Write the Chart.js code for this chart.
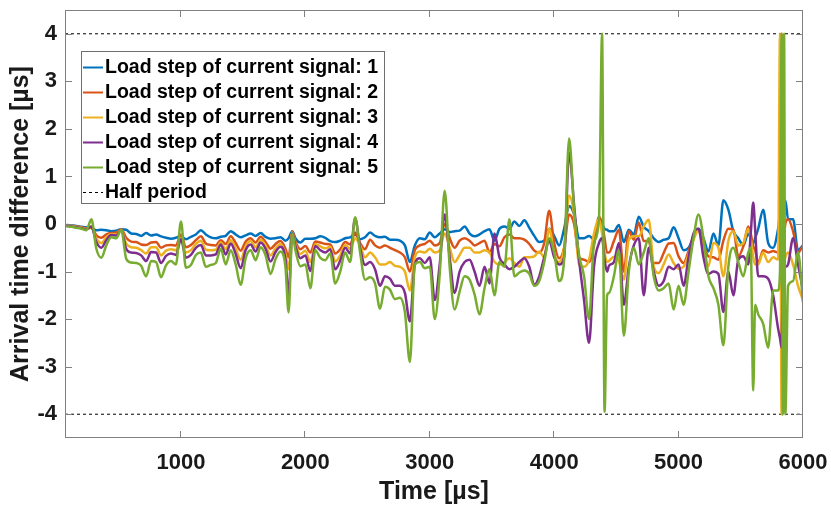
<!DOCTYPE html>
<html>
<head>
<meta charset="utf-8">
<title>Arrival time difference</title>
<script src="https://cdn.jsdelivr.net/npm/chart.js@4.4.0/dist/chart.umd.min.js"></script>
<style>
  html, body { margin: 0; padding: 0; background: #fff; }
  #wrap { position: relative; width: 831px; height: 508px; }
</style>
</head>
<body>
<div id="wrap"><canvas id="grafico"></canvas></div>
<script>
// Instantes de amostragem (µs)
const times = [
  80, 120, 160, 200, 240, 280, 320, 360, 400, 440,
  480, 520, 560, 600, 640, 680, 720, 760, 800, 840,
  880, 920, 960, 1000, 1040, 1080, 1120, 1160, 1200, 1240,
  1280, 1320, 1360, 1400, 1440, 1480, 1520, 1560, 1600, 1640,
  1680, 1720, 1760, 1800, 1840, 1865, 1895, 1920, 1960, 2000,
  2040, 2080, 2120, 2160, 2200, 2240, 2280, 2320, 2360, 2400,
  2440, 2480, 2520, 2560, 2600, 2640, 2680, 2720, 2760, 2800,
  2840, 2880, 2920, 2960, 3000, 3040, 3080, 3120, 3160, 3200,
  3240, 3280, 3320, 3360, 3400, 3440, 3480, 3520, 3560, 3600,
  3640, 3680, 3720, 3760, 3800, 3840, 3880, 3920, 3960, 4000,
  4040, 4080, 4120, 4160, 4200, 4240, 4280, 4320, 4360, 4385,
  4405, 4425, 4440, 4480, 4520, 4560, 4600, 4640, 4680, 4720,
  4760, 4800, 4840, 4880, 4920, 4960, 5000, 5040, 5080, 5120,
  5160, 5200, 5240, 5280, 5320, 5360, 5400, 5440, 5480, 5520,
  5560, 5580, 5600, 5615, 5640, 5680, 5720, 5760, 5800, 5815,
  5828, 5838, 5848, 5858, 5880, 5920, 5960, 6000
];

// Degrau de carga 1 .. 5 (µs)
const step1 = [
  -0.02, -0.03, -0.04, -0.06, -0.07, -0.08, -0.13, -0.12, -0.13, -0.15,
  -0.14, -0.11, -0.12, -0.2, -0.21, -0.25, -0.19, -0.24, -0.22, -0.26,
  -0.29, -0.31, -0.29, -0.25, -0.32, -0.27, -0.22, -0.13, -0.22, -0.28,
  -0.3, -0.27, -0.25, -0.15, -0.22, -0.28, -0.24, -0.2, -0.25, -0.19,
  -0.27, -0.31, -0.3, -0.28, -0.35, -0.3, -0.15, -0.3, -0.39, -0.31,
  -0.31, -0.3, -0.26, -0.29, -0.36, -0.38, -0.35, -0.3, -0.28, -0.22,
  -0.32, -0.28, -0.18, -0.25, -0.28, -0.27, -0.33, -0.33, -0.35, -0.45,
  -0.8, -0.45, -0.3, -0.32, -0.18, -0.28, -0.2, -0.11, -0.17, -0.15,
  -0.14, -0.05, -0.2, -0.26, -0.22, -0.15, -0.11, -0.35, -0.1, -0.05,
  -0.1, 0.05, -0.04, 0.08, -0.08, -0.25, -0.38, -0.35, -0.1, -0.25,
  -0.45, -0.1, 0.38, 0.2, -0.3, -0.3, -0.25, -0.33, 0.1, 0.0,
  -0.1, -0.12, -0.15, -0.15, -0.02, -0.38, -0.12, -0.22, 0.15, -0.06,
  -0.15, -0.3, -0.38, -0.33, -0.3, -0.07, -0.3, -0.55, -0.5, -0.28,
  -0.1, -0.3, -0.58, -0.2, -0.45, 0.5, 0.3, -0.15, -0.3, -0.45,
  -0.2, -0.3, -0.4, -0.3, -0.1, 0.3, -0.4, -0.5, -0.1, 0.2,
  0.3, 0.4, 0.5, 0.5, 0.1, 0.1, -0.55, -0.45
];
const step2 = [
  -0.03, -0.04, -0.05, -0.07, -0.09, -0.05, -0.24, -0.29, -0.22, -0.19,
  -0.18, -0.11, -0.29, -0.37, -0.38, -0.43, -0.44, -0.39, -0.38, -0.5,
  -0.45, -0.44, -0.45, -0.22, -0.49, -0.44, -0.34, -0.26, -0.41, -0.44,
  -0.45, -0.34, -0.42, -0.26, -0.4, -0.56, -0.37, -0.3, -0.39, -0.27,
  -0.38, -0.52, -0.42, -0.36, -0.52, -0.7, -0.16, -0.37, -0.53, -0.46,
  -0.6, -0.37, -0.39, -0.42, -0.43, -0.62, -0.53, -0.38, -0.43, -0.18,
  -0.4, -0.53, -0.33, -0.45, -0.5, -0.45, -0.5, -0.55, -0.6, -0.7,
  -1.0, -0.55, -0.45, -0.42, -0.35, -0.45, -0.4, 0.0, -0.3, -0.5,
  -0.35, -0.3, -0.35, -0.45, -0.4, -0.35, -0.6, -0.42, -0.47, -0.28,
  -0.22, -0.3, -0.3, -0.33, -0.42, -0.56, -0.6, -0.4, 0.28, -0.4,
  -0.72, -0.5, 0.2, 0.0, -0.7, -0.75, -0.8, -0.45, 0.15, 0.0,
  -0.3, -0.6, -0.6, -0.36, -0.12, -1.0, -0.15, -0.33, 0.03, -0.36,
  -0.36, -0.82, -0.82, -0.61, -0.41, -0.4, -0.68, -0.82, -0.57, -0.26,
  -0.12, -0.43, -0.68, -0.7, -0.75, -0.35, -0.1, -0.12, -0.68, -0.47,
  -0.05, -0.2, -0.47, -0.55, -0.82, -0.55, -0.6, -0.57, -0.6, -0.2,
  4.0, -1.0, -0.3, 0.0, 0.1, -0.15, -0.6, -0.45
];
const step3 = [
  -0.03, -0.04, -0.06, -0.08, -0.1, -0.08, -0.31, -0.4, -0.28, -0.21,
  -0.22, -0.12, -0.41, -0.49, -0.5, -0.55, -0.62, -0.49, -0.49, -0.66,
  -0.56, -0.53, -0.55, -0.3, -0.6, -0.55, -0.42, -0.35, -0.54, -0.55,
  -0.54, -0.39, -0.53, -0.34, -0.52, -0.75, -0.47, -0.36, -0.49, -0.33,
  -0.45, -0.66, -0.51, -0.42, -0.63, -0.95, -0.18, -0.42, -0.63, -0.56,
  -0.8, -0.42, -0.47, -0.51, -0.48, -0.79, -0.66, -0.44, -0.52, -0.3,
  -0.45, -0.7, -0.6, -0.7, -0.85, -0.85, -0.8, -0.88, -0.9, -1.0,
  -1.4, -0.7, -0.58, -0.6, -0.52, -0.6, -0.55, -0.2, -0.5, -0.8,
  -0.65, -0.5, -0.5, -0.6, -0.6, -0.55, -0.6, -0.8, -0.85, -0.8,
  -0.72, -0.82, -0.9, -0.7, -0.7, -0.68, -0.58, -0.7, -0.1, -0.62,
  -0.8, -0.5, 0.6, 0.2, -0.85, -0.9, -0.75, -0.2, 0.1, -0.2,
  -0.6, -0.8, -0.78, -0.69, -0.78, -1.17, -0.33, -0.26, -0.26, -0.05,
  0.09, -0.89, -1.03, -0.85, -0.64, -0.82, -0.94, -0.9, -0.64, -0.33,
  -0.13, -0.57, -0.89, -0.4, -0.5, -1.1, -0.35, -0.15, -0.45, -0.4,
  -0.1, -0.3, -0.7, -0.85, -0.85, -0.6, -0.8, -0.7, -0.75, 4.0,
  -4.0, -1.0, -0.8, -0.7, -0.6, -0.85, -1.3, -1.6
];
const step4 = [
  -0.04, -0.05, -0.07, -0.09, -0.11, -0.06, -0.38, -0.5, -0.34, -0.23,
  -0.24, -0.12, -0.52, -0.6, -0.61, -0.66, -0.78, -0.59, -0.6, -0.82,
  -0.67, -0.62, -0.65, -0.32, -0.71, -0.65, -0.5, -0.44, -0.66, -0.66,
  -0.64, -0.43, -0.64, -0.41, -0.63, -0.93, -0.55, -0.43, -0.58, -0.39,
  -0.52, -0.79, -0.59, -0.48, -0.74, -1.5, -0.19, -0.46, -0.72, -0.66,
  -0.99, -0.46, -0.55, -0.6, -0.53, -0.95, -0.77, -0.5, -0.62, 0.12,
  -0.5, -0.86, -0.8, -0.95, -1.3, -1.1, -1.15, -1.3, -1.3, -1.45,
  -2.05, -0.85, -0.72, -0.82, -0.7, -1.6, -0.85, 0.2, -0.7, -1.45,
  -1.0, -0.8, -0.75, -1.0, -1.3, -0.9, -1.25, -0.2, -0.7, -0.85,
  -0.95, -0.9, -0.8, -0.72, -0.9, -1.28, -1.1, -0.7, -0.35, -0.7,
  -0.85, -0.7, 1.5, 0.4, -0.75, -1.6, -2.5, -0.9, -0.4, -0.3,
  -0.75, -1.0, -0.88, -0.8, -0.4, -1.7, -0.9, -0.45, -0.3, -1.5,
  -0.5, -1.0, -1.3, -1.2, -0.9, -0.95, -0.85, -1.3, -0.7, -0.2,
  -0.1, -0.7, -1.05, -1.0, -1.05, -1.85, -1.0, -1.5, -0.75, -0.68,
  -0.85, -0.2, 0.45, -0.1, -1.1, -1.1, -1.15, -1.5, -2.2, -2.4,
  -2.6, -1.0, -0.9, -0.9, -0.85, -0.3, -0.85, -1.4
];
const step5 = [
  -0.05, -0.06, -0.08, -0.1, -0.13, 0.1, -0.52, -0.71, -0.45, -0.28,
  -0.3, -0.12, -0.73, -0.81, -0.82, -0.88, -1.1, -0.78, -0.8, -1.12,
  -0.87, -0.78, -0.85, 0.05, -0.92, -0.86, -0.65, -0.6, -0.9, -0.86,
  -0.82, -0.52, -0.85, -0.55, -0.85, -1.28, -0.72, -0.55, -0.76, -0.49,
  -0.66, -1.05, -0.74, -0.58, -0.9, -1.86, -0.2, -0.55, -0.89, -0.85,
  -1.35, -0.55, -0.71, -0.76, -0.62, -1.25, -1.0, -0.6, -0.8, 0.14,
  -0.6, -1.17, -1.12, -1.25, -1.78, -1.32, -1.38, -1.58, -1.55, -1.85,
  -2.9, -0.85, -0.8, -0.93, -0.9, -2.0, -1.05, 0.7, -0.9, -1.8,
  -1.42, -1.1, -1.17, -1.48, -1.9, -1.35, -0.95, -1.5, -0.8, -0.9,
  0.1, -1.1, -1.02, -0.98, -1.05, -1.3, -1.2, -0.8, -0.3, -0.6,
  -1.2, -0.75, 1.8, 0.3, -0.65, -1.1, -2.0, -0.4, 0.1, 4.0,
  -3.95, -1.5, -1.45, -1.1, -0.55, -2.35, -1.0, -0.5, -0.85, -0.6,
  -0.3, -1.1, -1.4, -1.35, -1.25, -1.8, -1.3, -1.7, -1.0, -0.3,
  0.2, -0.3, -1.1, -1.35, -1.7, -2.55, -0.9, -0.5, -0.8, -1.1,
  -0.6, -0.5, -3.5, -1.7, -1.9, -2.1, -2.6, -1.4, -1.4, -1.0,
  4.0, -4.0, 4.0, -4.0, -1.3, -1.2, -0.6, -1.65
];

const seriesValues = [step1, step2, step3, step4, step5];
const seriesNames = [
  'Load step of current signal: 1',
  'Load step of current signal: 2',
  'Load step of current signal: 3',
  'Load step of current signal: 4',
  'Load step of current signal: 5'
];
const seriesColors = ['#0072BD', '#D95319', '#EDB120', '#7E2F8E', '#77AC30'];

// Meio período e eixos
const halfPeriod = 4;
const xRange = [68, 6000];
const yRange = [-4.5, 4.5];
const xTicks = [1000, 2000, 3000, 4000, 5000, 6000];
const yTicks = [-4, -3, -2, -1, 0, 1, 2, 3, 4];

const fonte = '"Liberation Sans", Arial, Helvetica, sans-serif';
const corEixo = '#808080';
const corTexto = '#1a1a1a';

// Monta os datasets das curvas
const datasets = seriesValues.map((values, i) => ({
  label: seriesNames[i],
  data: times.map((t, j) => ({ x: t, y: values[j] })),
  borderColor: seriesColors[i],
  backgroundColor: seriesColors[i],
  borderWidth: 2.5,
  pointRadius: 0,
  cubicInterpolationMode: 'monotone',
  order: 5 - i
}));

// Linhas tracejadas de meio período (+/-)
[halfPeriod, -halfPeriod].forEach((v, i) => {
  datasets.push({
    label: i === 0 ? 'Half period' : '',
    data: [{ x: xRange[0], y: v }, { x: xRange[1], y: v }],
    borderColor: '#000',
    borderWidth: 1,
    borderDash: [3, 3],
    pointRadius: 0,
    order: 10
  });
});

// Caixa, marcas internas e legenda no estilo MATLAB
const moldura = {
  id: 'moldura',
  afterDraw: (chart) => {
    const { ctx, chartArea: area, scales } = chart;
    const linha = (x1, y1, x2, y2) => {
      ctx.beginPath();
      ctx.moveTo(x1, y1);
      ctx.lineTo(x2, y2);
      ctx.stroke();
    };
    ctx.save();
    ctx.strokeStyle = corEixo;
    ctx.lineWidth = 1;
    ctx.strokeRect(area.left + 0.5, area.top + 0.5, area.right - area.left - 1, area.bottom - area.top - 1);

    xTicks.forEach(v => {
      const px = Math.round(scales.x.getPixelForValue(v)) - 0.5;
      linha(px, area.bottom, px, area.bottom - 7);
      linha(px, area.top, px, area.top + 7);
    });
    yTicks.forEach(v => {
      const py = Math.round(scales.y.getPixelForValue(v)) + 0.5;
      linha(area.left, py, area.left + 7, py);
      linha(area.right, py, area.right - 7, py);
    });

    // Legenda
    const lx = 81, ly = 51, lw = 303, lh = 152;
    ctx.fillStyle = '#fff';
    ctx.fillRect(lx, ly, lw, lh);
    ctx.strokeStyle = '#6e6e6e';
    ctx.strokeRect(lx + 0.5, ly + 0.5, lw, lh);
    ctx.font = 'bold 19.5px ' + fonte;
    ctx.textAlign = 'left';
    ctx.textBaseline = 'middle';
    const itens = chart.data.datasets.filter(d => d.label);
    itens.forEach((d, i) => {
      const cy = 67 + 25 * i;
      ctx.strokeStyle = d.borderColor;
      ctx.lineWidth = d.borderDash ? 1 : 2;
      ctx.setLineDash(d.borderDash || []);
      linha(83, cy + 0.5, 103, cy + 0.5);
      ctx.setLineDash([]);
      ctx.fillStyle = '#000';
      ctx.fillText(d.label, 105, cy + 1);
    });
    ctx.restore();
  }
};

new Chart(document.getElementById('grafico'), {
  type: 'line',
  data: { datasets },
  options: {
    responsive: true,
    maintainAspectRatio: false,
    animation: false,
    devicePixelRatio: 1,
    layout: { padding: { top: 10, right: 28, left: 0, bottom: 0 } },
    plugins: {
      legend: { display: false },
      tooltip: { enabled: false }
    },
    scales: {
      x: {
        type: 'linear',
        min: xRange[0],
        max: xRange[1],
        grid: { display: false, drawTicks: false },
        border: { display: false },
        afterBuildTicks: (scale) => { scale.ticks = xTicks.map(v => ({ value: v })); },
        afterFit: (scale) => {
          scale.height = 70;
          scale.paddingLeft = 0;
          scale.paddingRight = 0;
        },
        ticks: {
          padding: 12,
          color: corTexto,
          font: { family: fonte, size: 22, weight: 'bold' },
          callback: (v) => String(v)
        },
        title: {
          display: true,
          text: 'Time [µs]',
          color: corTexto,
          font: { family: fonte, size: 25, weight: 'bold' },
          padding: { top: 0, bottom: 1 }
        }
      },
      y: {
        min: yRange[0],
        max: yRange[1],
        grid: { display: false, drawTicks: false },
        border: { display: false },
        afterBuildTicks: (scale) => { scale.ticks = yTicks.map(v => ({ value: v })); },
        afterFit: (scale) => {
          scale.width = 65;
          scale.paddingTop = 0;
          scale.paddingBottom = 0;
        },
        ticks: {
          padding: 8,
          color: corTexto,
          font: { family: fonte, size: 22, weight: 'bold' },
          callback: (v) => String(v)
        },
        title: {
          display: true,
          text: 'Arrival time difference [µs]',
          color: corTexto,
          font: { family: fonte, size: 25, weight: 'bold' },
          padding: { top: 6, bottom: 0 }
        }
      }
    }
  },
  plugins: [moldura]
});
</script>
</body>
</html>
